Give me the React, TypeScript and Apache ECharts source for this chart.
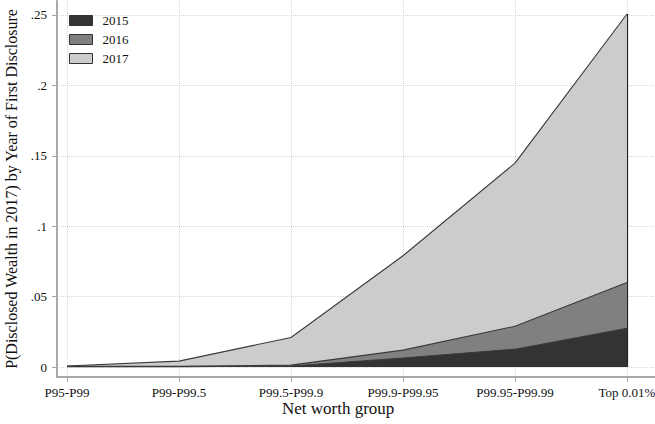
import React, { useEffect, useRef } from "react";
import * as echarts from "echarts";

const categories = ["P95-P99", "P99-P99.5", "P99.5-P99.9", "P99.9-P99.95", "P99.95-P99.99", "Top 0.01%"];
const yTicks = [0, 0.05, 0.1, 0.15, 0.2, 0.25];
const years = ["2015", "2016", "2017"];
// per-year shares (stacked in this order)
const v2015 = [0.0003, 0.0003, 0.0007, 0.0064, 0.0127, 0.0275];
const v2016 = [0.0002, 0.0003, 0.0007, 0.0056, 0.0163, 0.0325];
const v2017 = [0.0003, 0.0036, 0.0196, 0.067, 0.1158, 0.1907];
const colors = ["#333333", "#808080", "#cccccc"];

const FONT = "Liberation Serif";

export default function App() {
  const ref = useRef<HTMLDivElement>(null);
  useEffect(() => {
    const chart = echarts.init(ref.current!, null, { renderer: "svg" });
    const seriesVals = [v2015, v2016, v2017];
    // cumulative tops for each layer
    const cum: number[][] = [];
    seriesVals.forEach((vals, k) => {
      cum.push(vals.map((v, i) => v + (k > 0 ? cum[k - 1][i] : 0)));
    });
    const last = categories.length - 1;
    const series: any[] = years.map((y, k) => ({
      name: y,
      type: "line",
      symbol: "none",
      data: cum[k].map((v, i) => [i, v]),
      lineStyle: { color: "#3a3a3a", width: 1.1 },
      areaStyle: { color: colors[k], opacity: 1, origin: 0 },
      itemStyle: { color: colors[k] },
      z: 10 - k,
    }));
    series[2].markLine = {
      silent: true,
      symbol: "none",
      label: { show: false },
      lineStyle: { color: "#222", width: 1.2, type: "solid" },
      data: [[{ coord: [last, 0] }, { coord: [last, cum[2][last]] }]],
    };
    chart.setOption({
      animation: false,
      backgroundColor: "#ffffff",
      textStyle: { fontFamily: FONT },
      grid: { left: 57, right: 0, top: 1, bottom: 47, outerBoundsMode: "none", containLabel: false },
      legend: {
        orient: "vertical",
        left: 69,
        top: 14,
        padding: 0,
        icon: "rect",
        itemWidth: 23,
        itemHeight: 10,
        itemGap: 6,
        textStyle: { fontFamily: FONT, fontSize: 13, color: "#111", padding: [0, 0, 0, 5] },
        data: years.map((y, k) => ({
          name: y,
          itemStyle: { color: colors[k], borderColor: "#333", borderWidth: 1 },
        })),
      },
      xAxis: {
        type: "value",
        min: -10 / 112,
        max: 5 + 28 / 112,
        axisLine: { show: true, onZero: false, lineStyle: { color: "#a8a8a8", width: 2 } },
        axisTick: { show: true, length: 5, lineStyle: { color: "#a8a8a8" }, customValues: categories.map((_, i) => i) },
        axisLabel: {
          customValues: categories.map((_, i) => i),
          formatter: (v: number) => categories[Math.round(v)],
          fontFamily: FONT,
          fontSize: 13,
          color: "#111",
          margin: 9,
        },
        splitLine: { show: true, lineStyle: { color: "#d4d4d4", type: "dotted", width: 1 } },
      },
      yAxis: {
        type: "value",
        min: -0.00706,
        max: 0.2599,
        name: "P(Disclosed Wealth in 2017) by Year of First Disclosure",
        nameLocation: "middle",
        nameGap: 37,
        nameTextStyle: { fontFamily: FONT, fontSize: 16, color: "#111" },
        axisLine: { show: true, onZero: false, lineStyle: { color: "#a8a8a8", width: 2 } },
        axisTick: { show: true, length: 5, lineStyle: { color: "#a8a8a8" }, customValues: yTicks },
        axisLabel: {
          customValues: yTicks,
          formatter: (v: number) => (Math.abs(v) < 1e-9 ? "0" : String(Number(v.toFixed(2))).replace(/^0/, "")),
          fontFamily: FONT,
          fontSize: 13,
          color: "#111",
          margin: 10,
        },
        splitLine: { show: true, lineStyle: { color: "#d4d4d4", type: "dotted", width: 1 } },
      },
      graphic: [
        {
          type: "text",
          left: 282,
          top: 400,
          style: { text: "Net worth group", font: `17px 'Liberation Serif', serif`, fill: "#111" },
        },
      ],
      series,
    });
    return () => chart.dispose();
  }, []);
  return <div ref={ref} style={{ width: 655, height: 424, position: "absolute", left: 0, top: 0 }} />;
}
